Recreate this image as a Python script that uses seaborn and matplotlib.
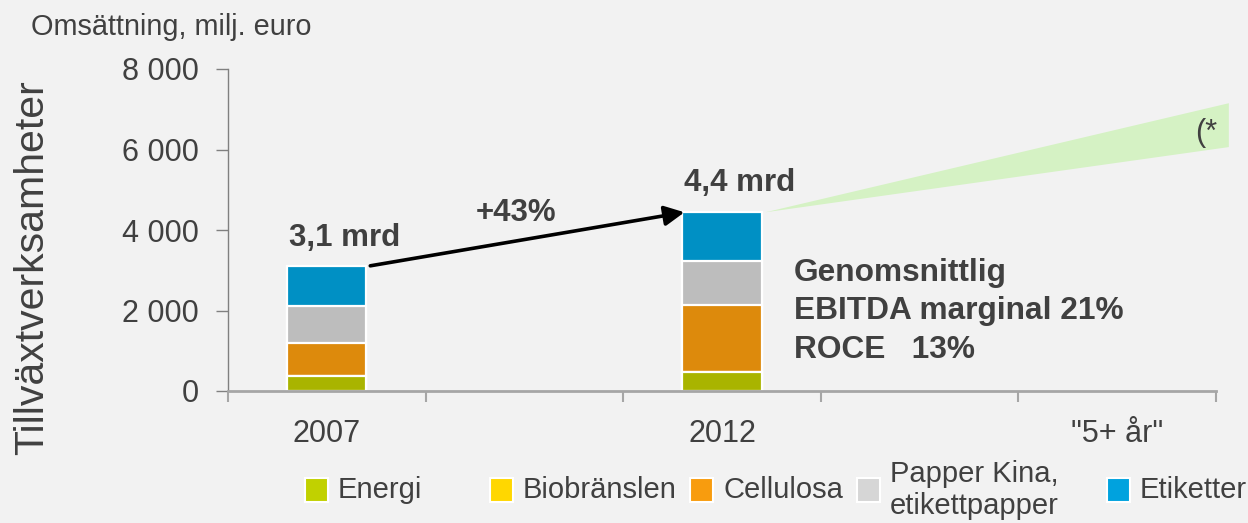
import matplotlib
matplotlib.use("Agg")
import matplotlib.pyplot as plt
from matplotlib.patches import Rectangle
import seaborn as sns
import pandas as pd

# Revenue by business area, MEUR
years = ["2007", "2012"]
energi = [370, 470]
biobranslen = [0, 0]
cellulosa = [820, 1660]
papper = [920, 1110]
etiketter = [1000, 1200]

# x-axis slots (two unlabeled gaps between the labeled ones)
slots = ["2007", "gap_a", "2012", "gap_b", "5+"]
slot_labels = ["2007", "", "2012", "", '"5+ år"']

y_ticks = [0, 2000, 4000, 6000, 8000]

series_names = ["Energi", "Biobränslen", "Cellulosa", "Papper Kina,\netikettpapper", "Etiketter"]
bar_colors = ["#A9B400", "#E6B800", "#DD8A0C", "#BDBDBD", "#0090C4"]
legend_colors = ["#C1D100", "#FFD700", "#F89C0E", "#D6D6D6", "#00A2DE"]

total_labels = ["3,1 mrd", "4,4 mrd"]
growth_label = "+43%"

# growth corridor beyond 2012 (x in slot units, MEUR)
corridor_end_x = 4.565
corridor_low = 6060
corridor_high = 7150

BG = "#F2F2F2"
TXT = "#404040"

sns.set_theme(style="ticks")
plt.rcParams["font.family"] = ["Liberation Sans", "DejaVu Sans"]

fig = plt.figure(figsize=(12.48, 5.23), dpi=100, facecolor=BG)
ax = fig.add_axes([228 / 1248, 1 - 391 / 523, (1216 - 228) / 1248, (391 - 69) / 523])
ax.set_facecolor(BG)

df = pd.DataFrame({"year": years, "Energi": energi, "Biobränslen": biobranslen,
                   "Cellulosa": cellulosa, "Papper": papper, "Etiketter": etiketter})
layers = ["Energi", "Biobränslen", "Cellulosa", "Papper", "Etiketter"]
cum = df[layers].cumsum(axis=1)

# stacked bars drawn as cumulative totals, tallest first
for i in reversed(range(len(layers))):
    sns.barplot(x=df["year"], y=cum[layers[i]], order=slots, color=bar_colors[i],
                saturation=1, width=0.4, edgecolor="white", linewidth=1.6, ax=ax)

totals = cum["Etiketter"].tolist()

ax.set_xlim(-0.5, 4.5)
ax.set_ylim(0, 8000)
ax.set_xlabel("")
ax.set_ylabel("")

# growth corridor
start_x = slots.index("2012") + 0.22
ax.fill([start_x, corridor_end_x, corridor_end_x],
        [totals[1], corridor_high, corridor_low],
        color="#D5F2C4", lw=0, clip_on=False, zorder=0.5)
ax.text(corridor_end_x - 0.115, 6400, "(*",
        fontsize=22, color=TXT, ha="center", va="center")

# growth arrow between the bars
x0 = slots.index("2007")
x1 = slots.index("2012")
ax.annotate("", xy=(x1 - 0.19, totals[1]), xytext=(x0 + 0.22, totals[0]),
            arrowprops=dict(arrowstyle="-|>", color="black", lw=2.6,
                            mutation_scale=30, shrinkA=0, shrinkB=0))
ax.text((x0 + x1) / 2 - 0.04, 4420, growth_label, fontsize=22.5, fontweight="bold",
        color=TXT, ha="center", va="center")

ax.text(x0 + 0.09, totals[0] + 690, total_labels[0], fontsize=22.5, fontweight="bold",
        color=TXT, ha="center", va="center")
ax.text(x1 + 0.09, totals[1] + 720, total_labels[1], fontsize=22.5, fontweight="bold",
        color=TXT, ha="center", va="center")

ax.text(x1 + 0.365, 1980, "Genomsnittlig\nEBITDA marginal 21%\nROCE   13%",
        fontsize=22.8, fontweight="bold", color=TXT, ha="left", va="center",
        linespacing=1.38)

# axes styling
ax.set_yticks(y_ticks)
ax.set_yticklabels([f"{v:,}".replace(",", " ") for v in y_ticks])
ax.set_xticks(range(len(slots)))
ax.set_xticklabels(slot_labels)
ax.set_xticks([i - 0.5 for i in range(len(slots) + 1)], minor=True)
ax.tick_params(axis="x", which="major", length=0, pad=20, labelsize=22, labelcolor=TXT)
ax.tick_params(axis="x", which="minor", length=8, width=1.5, color="#A6A6A6", direction="out")
ax.tick_params(axis="y", length=9, width=1, color="#808080", direction="out",
               pad=12, labelsize=22, labelcolor=TXT)
for s in ["top", "right"]:
    ax.spines[s].set_visible(False)
ax.spines["left"].set_color("#808080")
ax.spines["left"].set_linewidth(1)
ax.spines["bottom"].set_color("#A6A6A6")
ax.spines["bottom"].set_linewidth(2)

fig.text(171 / 1248, 1 - 27 / 523, "Omsättning, milj. euro", fontsize=20.8,
         color=TXT, ha="center", va="center")
fig.text(32 / 1248, 1 - 268 / 523, "Tillväxtverksamheter", fontsize=29.5,
         color=TXT, ha="center", va="center", rotation=90)

# legend row
W, H = 1248, 523
marker_left = [305, 490, 690, 857, 1107]
for name, col, lx in zip(series_names, legend_colors, marker_left):
    fig.add_artist(Rectangle((lx / W, 1 - 502 / H), 23 / W, 24 / H, transform=fig.transFigure,
                             facecolor=col, edgecolor="white", lw=1.5))
    fig.text((lx + 33) / W, 1 - 490 / H, name, fontsize=21, color=TXT,
             ha="left", va="center", linespacing=1.2)

fig.savefig("out.png", dpi=100, facecolor=BG)
